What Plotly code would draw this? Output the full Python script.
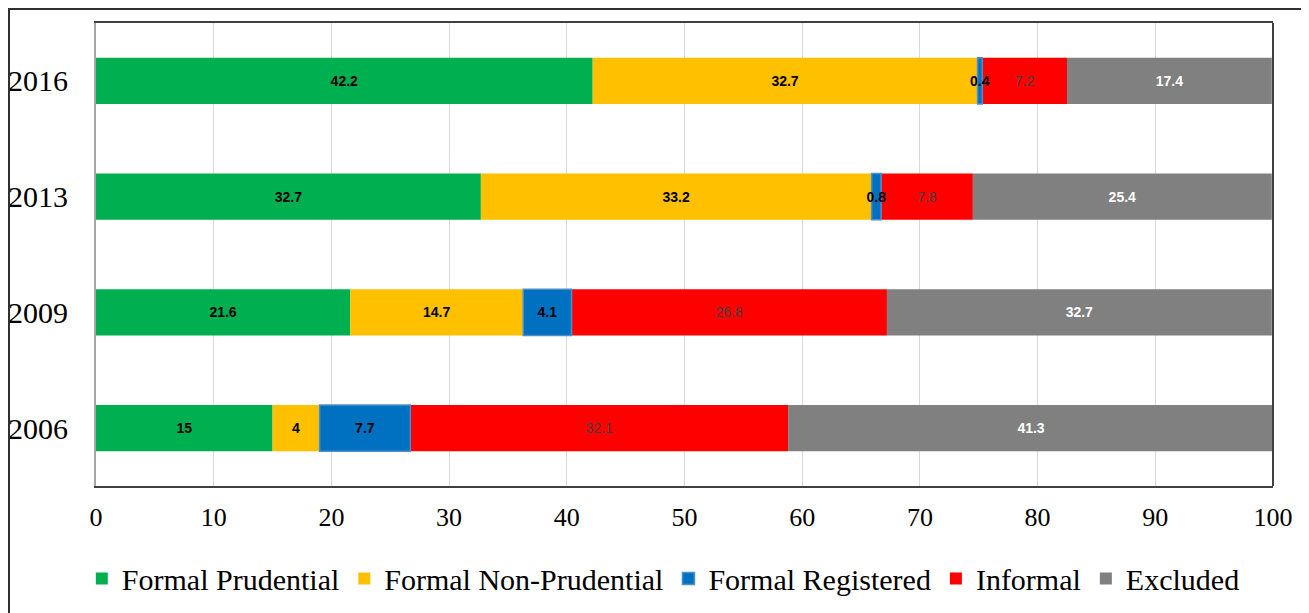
import plotly.graph_objects as go

years = ["2006", "2009", "2013", "2016"]
formal_prudential = [15, 21.6, 32.7, 42.2]
formal_non_prudential = [4, 14.7, 33.2, 32.7]
formal_registered = [7.7, 4.1, 0.8, 0.4]
informal = [32.1, 26.8, 7.8, 7.2]
excluded = [41.3, 32.7, 25.4, 17.4]
x_ticks = [0, 10, 20, 30, 40, 50, 60, 70, 80, 90, 100]

# (name, values, colour, label colour, bold, outline colour, legend rank)
series = [
    ("Formal Prudential", formal_prudential, "#00B050", "#000000", True, None, 1),
    ("Formal Non-Prudential", formal_non_prudential, "#FFC000", "#000000", True, None, 2),
    ("Formal Registered", formal_registered, "#0070C0", "#000000", True, "#4A90D0", 3),
    ("Informal", informal, "#FF0000", "#404040", False, None, 4),
    ("Excluded", excluded, "#808080", "#FFFFFF", True, None, 5),
]

# stacking bases computed from the data
bases = []
running = [0.0] * len(years)
for s in series:
    bases.append(list(running))
    running = [r + v for r, v in zip(running, s[1])]

draw_order = [0, 1, 3, 4, 2]  # blue drawn last so its small labels stay on top

fig = go.Figure()
for i in draw_order:
    name, vals, color, tcolor, bold, line_color, rank = series[i]
    fig.add_trace(go.Bar(
        name=name, y=years, x=vals, base=bases[i], orientation="h",
        legendrank=rank,
        marker=dict(color=color,
                    line=dict(color=line_color if line_color else color,
                              width=1.5 if line_color else 0)),
        text=[str(v) for v in vals],
        texttemplate="<b>%{text}</b>" if bold else "%{text}",
        textposition="inside", insidetextanchor="middle", textangle=0,
        textfont=dict(family="Liberation Sans", size=14, color=tcolor),
        constraintext="none",
    ))

fig.update_layout(
    barmode="overlay", bargap=0.6,
    width=1301, height=605,
    margin=dict(l=88, r=36, t=15, b=127, autoexpand=False),
    paper_bgcolor="white", plot_bgcolor="white",
    uniformtext=dict(minsize=14, mode="show"),
    font=dict(family="Liberation Serif", color="#000000"),
    legend=dict(orientation="h", x=0.482, xanchor="center", y=-0.2, yanchor="middle",
                font=dict(family="Liberation Serif", size=30, color="#000000"),
                itemwidth=30),
    showlegend=True,
)
fig.update_xaxes(
    range=[0, 100], tickvals=x_ticks, ticktext=[str(t) for t in x_ticks],
    showgrid=True, gridcolor="#D9D9D9", gridwidth=1,
    showline=True, mirror=True, linecolor="#404040", linewidth=2,
    ticks="", tickfont=dict(family="Liberation Serif", size=26, color="#000000"),
    ticklabelstandoff=7, zeroline=False, automargin=False,
)
fig.update_yaxes(
    type="category", categoryorder="array", categoryarray=years,
    showline=True, linecolor="#A6A6A6", linewidth=2, showgrid=False,
    ticks="", tickfont=dict(family="Liberation Serif", size=30, color="#000000"),
    ticklabelstandoff=20, automargin=False,
)
fig.add_shape(type="line", xref="paper", yref="paper", x0=1, x1=1, y0=0, y1=1,
              line=dict(color="#404040", width=2))
fig.add_shape(type="rect", xref="paper", yref="paper",
              x0=(1 - 88) / 1177, x1=(1296 - 88) / 1177,
              y0=(478 - 640) / 463, y1=(478 - 1) / 463,
              line=dict(color="#303030", width=2), fillcolor="rgba(0,0,0,0)", layer="above")

fig.write_html("out.html")
